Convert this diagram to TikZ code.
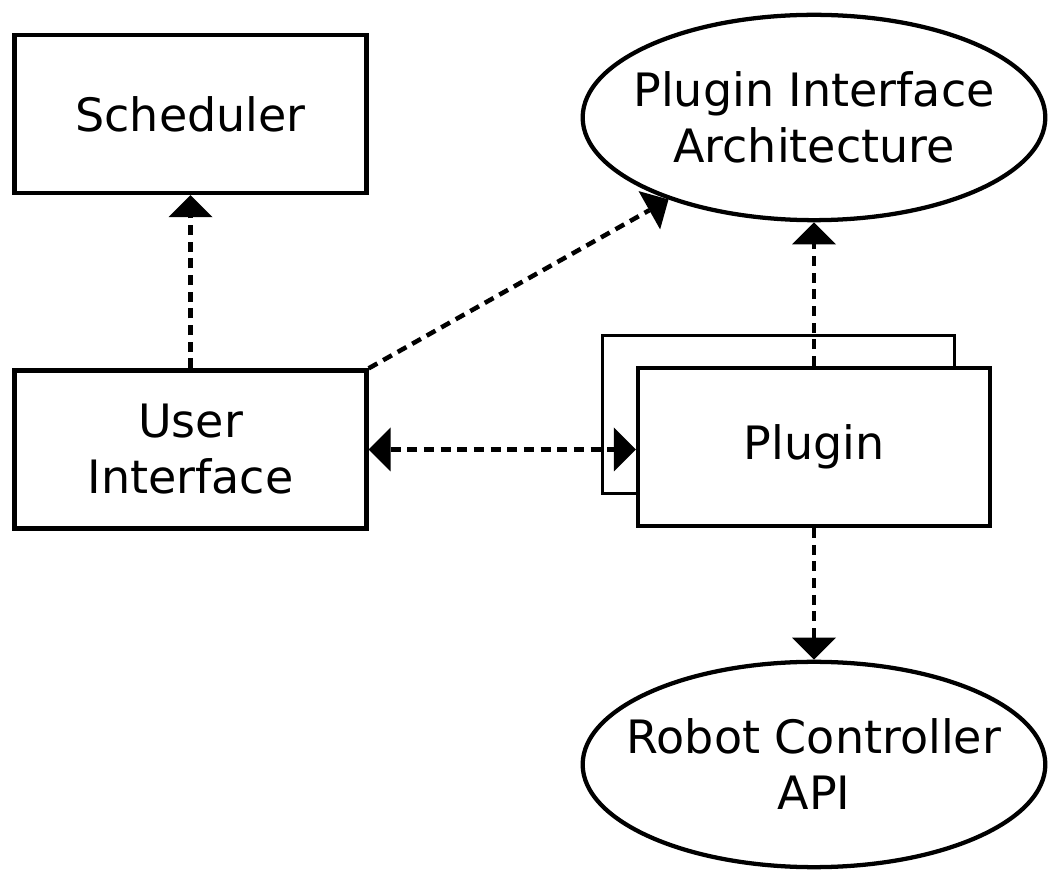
\documentclass[tikz,border=0pt]{standalone}
\usepackage{fontspec}
\setmainfont{DejaVu Sans}
\usetikzlibrary{shapes.geometric,arrows.meta}
\begin{document}
\begin{tikzpicture}[x=0.75pt,y=-0.75pt,
  label font/.style={font=\fontsize{34.5}{42}\selectfont},
  box/.style={draw, line width=3.2pt, fill=white, minimum width=264pt,
    minimum height=118.5pt, inner sep=0pt, align=center, label font},
  oval/.style={ellipse, draw, line width=3.2pt, fill=white, minimum width=347pt,
    minimum height=154pt, inner sep=0pt},
  caption/.style={align=center, inner sep=0pt, label font},
  link/.style={line width=3.4pt, dash pattern=on 7.5pt off 5pt},
  >={Triangle[length=16.5pt,width=33pt,line width=0pt]},
]
\useasboundingbox (0,0) rectangle (1051,873);

% components
\node[box] (sched) at (190.5,114) {Scheduler};
\node[box] (ui) at (190.5,449.5) {User\\Interface};
\node[oval] (pia) at (814,117.5) {};
\node[caption] (pialabel) at (pia) {Plugin Interface\\Architecture};
\node[box, line width=2pt] (plugback) at (778.5,414.5) {};
\node[box] (plugin) at (814,447) {Plugin};
\node[oval] (robot) at (814,764.5) {};
\node[caption] (robotlabel) at (robot) {Robot Controller\\API};

% dependencies
\draw[link,->] (ui.north) -- (sched.south);
\draw[link,->] (ui.north east) -- (pia);
\draw[link,<->] (ui.east) -- (ui.east -| plugin.west);
\draw[link,->] (plugin.north) -- (pia.south);
\draw[link,->] (plugin.south) -- (robot.north);
\end{tikzpicture}
\end{document}
